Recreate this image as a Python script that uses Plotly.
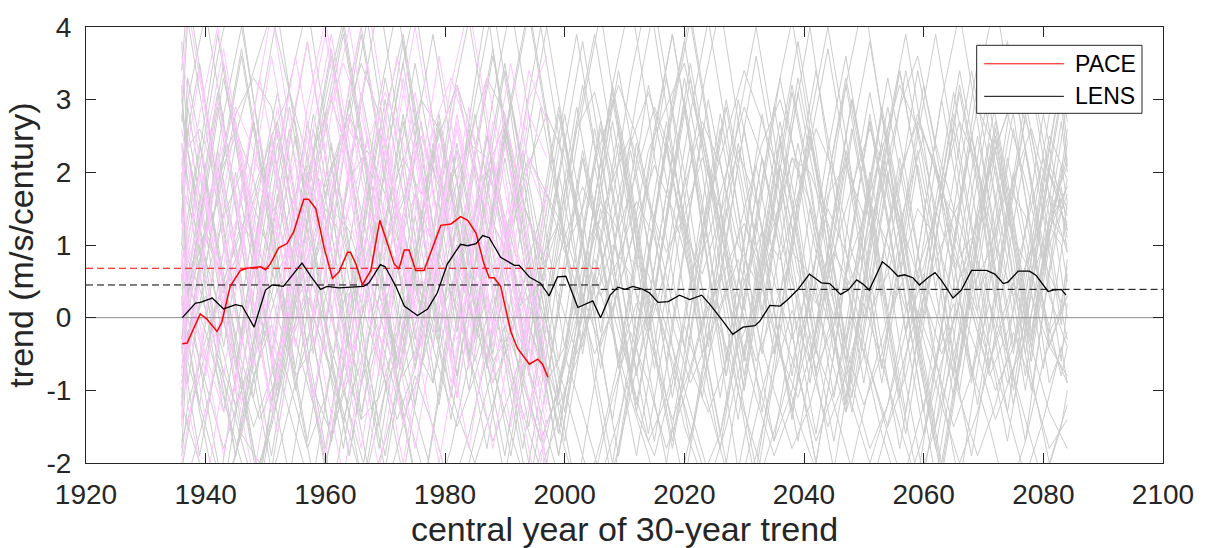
import plotly.graph_objects as go

# ---------------- data ----------------
# LENS members are sampled every 3 years on two staggered year grids; PACE likewise
GRAY_YEARS_A = list(range(1936, 2084, 3)) + [2084]
GRAY_YEARS_B = [1936] + list(range(1937, 2084, 3)) + [2084]
PINK_YEARS_A = list(range(1936, 1997, 3)) + [1997]
PINK_YEARS_B = [1936] + list(range(1937, 1997, 3)) + [1997]

lens_members = [
    [2.1, 3.5, 1.8, 0.2, -1.1, 0.6, 2.4, 3.8, 2.2, 0.4, -1.3, -0.2, 1.6, 0.5, -0.9, 0.8, 2.7, 4.3, 2.5, 0.9,
     -0.6, -1.9, -0.4, 1.3, 3.0, 1.6, -0.1, 1.4, 2.9, 1.2, -0.5, -2.1, -0.8, 1.0, 2.6, 4.0, 2.3, 0.6, -0.9, 0.7,
     2.2, 0.9, -0.7, 0.9, 2.5, 1.1, -0.4, -1.7, 0.1, 1.8, 1.2],
    [-1.4, 0.3, 1.9, 0.6, -0.8, -2.3, -0.6, 1.2, 2.8, 1.5, 0.0, 1.7, 3.3, 2.0, 0.3, -1.2, 0.4, 2.1, 0.9, -0.7,
     -2.0, -0.5, 1.3, 2.9, 4.2, 2.6, 0.8, -0.7, 0.9, 2.4, 1.0, -0.6, 1.1, 2.8, 1.4, -0.3, -1.6, -0.1, 1.7, 3.1,
     1.8, 0.2, -1.3, 0.4, 2.0, 3.5, 2.1, 0.5, -1.0, 0.6, 1.9],
    [0.7, 2.3, 3.9, 2.4, 0.9, 2.2, 1.0, -0.7, -2.1, -0.6, 1.1, 2.6, 1.2, -0.3, 1.2, 2.9, 4.1, 2.6, 0.8, -0.8,
     0.6, 2.0, 0.7, -0.9, -2.3, -0.8, 0.9, 2.4, 1.0, -0.5, 1.1, 2.7, 4.0, 2.5, 0.8, -0.6, 0.9, 2.3, 1.1, -0.4,
     -1.8, -0.3, 1.4, 2.8, 1.3, -0.2, 1.4, 3.0, 1.6, 0.1, 0.8],
    [3.2, 1.7, 0.1, -1.3, 0.2, 1.8, 3.1, 1.6, 0.0, 1.5, 3.0, 1.7, 0.1, -1.4, -2.6, -1.0, 0.8, 2.3, 3.7, 2.2,
     0.6, -0.9, 0.6, 2.2, 0.9, -0.6, -1.9, -0.4, 1.3, 2.8, 4.1, 2.6, 0.9, -0.5, 1.0, 2.4, 1.1, -0.5, 1.1, 2.8,
     1.4, -0.2, -1.6, -0.1, 1.6, 3.2, 4.4, 2.8, 1.1, -0.4, 0.3],
    [-0.5, 1.0, -0.3, -1.9, -0.6, 1.1, 2.6, 1.2, -0.4, -1.8, -0.3, 1.5, 3.1, 4.3, 2.7, 1.0, -0.5, 1.0, 2.5, 1.1,
     -0.5, -1.9, -0.4, 1.2, 2.7, 1.3, -0.2, 1.3, 3.0, 1.6, 0.0, -1.4, 0.2, 1.7, 3.2, 1.9, 0.3, -1.1, 0.5, 2.1,
     0.8, -0.8, -2.2, -0.7, 1.0, 2.5, 3.8, 2.3, 0.7, 2.0, 2.6],
    [1.5, 0.1, 1.7, 3.3, 2.0, 0.4, -1.1, 0.5, 2.2, 3.6, 2.1, 0.5, -0.9, -2.2, -0.7, 0.9, 2.4, 1.1, -0.5, 1.0,
     2.6, 4.0, 2.5, 0.8, -0.7, 0.8, 2.4, 1.2, -0.4, -1.7, -0.2, 1.5, 0.2, -1.3, 0.3, 2.0, 3.4, 2.0, 0.4, 1.9,
     3.3, 2.0, 0.4, -1.0, -2.3, -0.7, 1.0, 2.6, 1.2, -0.3, -0.9],
    [0.2, -1.3, -2.5, -0.8, 0.9, 2.5, 1.1, -0.4, 1.2, 2.7, 4.0, 2.5, 0.8, -0.6, 0.9, 2.3, 1.0, -0.6, -1.9, -0.3,
     1.4, 2.9, 1.5, 0.0, 1.6, 3.3, 4.5, 2.9, 1.2, -0.3, -1.6, -0.2, 1.3, 0.1, -1.4, 0.3, 1.9, 3.2, 1.8, 0.3,
     1.8, 3.4, 2.1, 0.5, -0.9, 0.6, 2.2, 0.9, -0.7, 0.9, 1.6],
    [2.7, 4.1, 2.6, 1.0, -0.4, 1.1, 2.6, 1.3, -0.3, -1.7, -0.2, 1.5, 3.0, 1.7, 0.1, 1.6, 3.2, 2.0, 0.4, -1.1,
     -2.4, -0.9, 0.8, 2.3, 1.0, -0.6, 1.0, 2.6, 3.9, 2.4, 0.7, -0.8, 0.7, 2.2, 0.9, -0.7, -2.0, -0.5, 1.2, 2.7,
     1.3, -0.2, 1.4, 3.0, 4.2, 2.7, 1.0, -0.5, 1.0, 2.5, 1.9],
    [-2.1, -0.6, 1.0, 2.4, 1.0, -0.5, 1.1, 2.7, 1.4, 0.0, -1.4, 0.3, 2.0, 3.5, 2.1, 0.5, -1.0, 0.6, 2.2, 0.9,
     -0.6, 1.0, 2.6, 3.9, 2.4, 0.8, -0.7, -2.0, -0.5, 1.2, 2.8, 1.5, -0.1, 1.5, 3.1, 1.8, 0.2, -1.2, 0.4, 2.0,
     3.4, 2.0, 0.4, -1.1, 0.5, 2.1, 0.8, -0.8, 0.8, 2.4, 3.0],
    [1.0, 2.6, 1.2, -0.4, 1.1, 2.8, 4.2, 2.6, 0.9, -0.6, -1.9, -0.4, 1.2, 2.7, 1.3, -0.3, 1.3, 2.8, 1.4, -0.1,
     -1.5, 0.1, 1.7, 3.2, 1.9, 0.3, -1.2, 0.3, 1.8, 3.3, 2.0, 0.4, -1.0, 0.6, 2.1, 0.8, -0.8, 0.8, 2.5, 3.8,
     2.3, 0.7, -0.8, -2.1, -0.6, 1.1, 2.6, 1.2, -0.3, 1.3, 2.2],
    [0.0, 1.6, 3.1, 1.7, 0.2, -1.2, 0.4, 2.0, 0.7, -0.9, -2.2, -0.7, 0.9, 2.5, 3.9, 2.4, 0.8, -0.7, 0.8, 2.3,
     1.0, -0.6, 1.0, 2.6, 1.3, -0.3, -1.6, -0.1, 1.6, 3.1, 4.3, 2.7, 1.0, -0.5, 1.0, 2.5, 1.2, -0.4, 1.2, 2.8,
     1.5, -0.1, -1.5, 0.0, 1.7, 3.2, 1.9, 0.3, 1.8, 3.3, 2.7],
    [3.8, 2.3, 0.7, 2.2, 3.6, 2.1, 0.5, -1.0, 0.6, 2.1, 0.8, -0.8, -2.1, -0.6, 1.1, 2.6, 1.2, -0.3, 1.3, 2.9,
     4.2, 2.7, 1.0, -0.5, 1.0, 2.4, 1.1, -0.5, -1.8, -0.3, 1.4, 2.9, 1.5, 0.0, 1.6, 3.1, 1.8, 0.2, -1.3, 0.3,
     1.9, 3.4, 2.1, 0.5, -1.0, 0.6, 2.1, 0.8, -0.8, -2.0, -1.2],
    [-0.9, 0.7, 2.3, 1.0, -0.5, -1.9, -0.4, 1.3, 2.8, 4.0, 2.5, 0.8, -0.7, 0.8, 2.3, 1.0, -0.6, 1.0, 2.7, 1.4,
     -0.2, -1.6, -0.1, 1.6, 3.1, 1.8, 0.2, 1.7, 3.3, 2.0, 0.4, -1.0, -2.3, -0.8, 0.9, 2.4, 3.7, 2.2, 0.6, -0.9,
     0.6, 2.1, 0.8, -0.8, 0.8, 2.4, 1.1, -0.5, 1.1, 2.7, 2.0],
    [1.9, 0.3, -1.1, -2.4, -0.8, 0.9, 2.4, 1.0, -0.5, 1.1, 2.7, 4.1, 2.5, 0.8, -0.7, 0.8, 2.3, 1.0, -0.6, -1.9,
     -0.4, 1.3, 2.8, 1.4, -0.2, 1.4, 3.0, 4.3, 2.8, 1.1, -0.4, 1.1, 2.6, 1.2, -0.4, -1.7, -0.2, 1.5, 3.0, 1.7,
     0.1, 1.6, 3.2, 1.9, 0.3, -1.2, 0.4, 2.0, 0.7, -0.9, -0.2],
    [0.5, 2.1, 3.6, 4.7, 3.0, 1.3, -0.2, 1.3, 2.8, 1.4, -0.1, -1.5, 0.0, 1.7, 0.4, -1.1, 0.5, 2.1, 3.5, 2.0,
     0.4, -1.1, -2.4, -0.9, 0.8, 2.3, 1.0, -0.6, 1.0, 2.6, 1.3, -0.3, 1.3, 2.9, 4.1, 2.6, 0.9, -0.6, 0.9, 2.4,
     1.1, -0.5, -1.8, -0.3, 1.4, 2.9, 1.5, 0.0, 1.6, 3.1, 2.4],
    [-1.2, 0.3, 1.8, 0.5, -1.0, -2.4, -0.9, 0.8, 2.3, 3.7, 2.2, 0.6, 2.1, 3.5, 2.0, 0.4, -1.1, 0.5, 2.1, 0.8,
     -0.8, 0.8, 2.4, 3.8, 2.3, 0.7, -0.8, 0.7, 2.2, 0.9, -0.7, -2.0, -0.5, 1.2, 2.7, 1.4, -0.2, 1.4, 3.0, 1.6,
     0.1, -1.3, 0.3, 1.9, 3.4, 2.1, 0.5, -1.0, 0.6, 2.1, 1.5],
    [2.8, 1.3, -0.3, 1.2, 2.7, 1.3, -0.3, -1.7, -0.2, 1.5, 3.0, 4.4, 2.8, 1.1, -0.4, 1.1, 2.6, 1.2, -0.4, -1.8,
     -0.3, 1.4, 2.9, 1.5, 0.0, 1.6, 3.2, 1.9, 0.3, -1.1, 0.5, 2.1, 3.6, 2.2, 0.6, -0.9, 0.7, 2.2, 0.9, -0.7,
     0.9, 2.5, 3.9, 2.4, 0.8, -0.7, 0.8, 2.3, 1.0, -0.6, 0.2],
    [0.6, -0.9, 0.7, 2.3, 3.7, 2.2, 0.6, -0.9, -2.2, -0.7, 1.0, 2.5, 1.1, -0.5, 1.1, 2.7, 1.3, -0.2, 1.4, 3.0,
     4.3, 2.8, 1.1, -0.4, 1.1, 2.6, 1.2, -0.4, -1.7, -0.2, 1.5, 3.0, 1.7, 0.1, 1.7, 3.3, 2.0, 0.4, -1.1, 0.4,
     2.0, 0.7, -0.9, -2.2, -0.7, 1.0, 2.5, 1.1, -0.4, 1.2, 1.8],
    [-0.3, 1.3, 2.9, 1.5, 0.0, 1.6, 3.2, 4.3, 2.7, 1.0, -0.5, -1.8, -0.3, 1.4, 0.1, -1.4, 0.2, 1.9, 3.4, 2.0,
     0.4, -1.1, 0.5, 2.1, 0.8, -0.8, 0.8, 2.4, 3.8, 2.3, 0.7, -0.8, -2.1, -0.6, 1.1, 2.6, 1.2, -0.3, 1.3, 2.9,
     1.6, 0.0, 1.6, 3.1, 1.8, 0.2, -1.3, 0.3, 1.9, 3.3, 2.8],
    [1.3, 2.9, 1.5, 0.0, -1.5, 0.1, 1.7, 0.4, -1.1, -2.5, -1.0, 0.7, 2.3, 3.8, 2.3, 0.7, -0.8, 0.7, 2.2, 0.9,
     -0.7, 0.9, 2.5, 1.1, -0.5, -1.9, -0.4, 1.3, 2.8, 4.1, 2.6, 0.9, -0.6, 0.9, 2.4, 1.1, -0.5, 1.1, 2.6, 1.3,
     -0.3, -1.6, -0.1, 1.6, 3.1, 1.8, 0.2, 1.7, 3.3, 2.0, 1.4],
    [2.4, 0.9, -0.6, -1.9, -0.3, 1.4, 2.9, 1.5, -0.1, 1.5, 3.1, 1.8, 0.2, -1.2, 0.4, 2.0, 0.7, -0.9, -2.2, -0.7,
     1.0, 2.5, 3.9, 2.4, 0.8, -0.7, 0.8, 2.4, 1.1, -0.5, -1.8, -0.3, 1.4, 2.9, 1.5, 0.0, 1.6, 3.2, 4.4, 2.8,
     1.1, -0.4, 1.1, 2.6, 1.2, -0.4, -1.7, -0.2, 1.5, 3.0, 2.1],
    [-1.8, -0.3, 1.3, 2.8, 4.0, 2.5, 0.8, -0.7, 0.9, 2.4, 1.0, -0.6, -1.9, -0.4, 1.3, 2.8, 1.4, -0.2, 1.4, 3.0,
     1.7, 0.1, -1.3, 0.2, 1.9, 3.4, 2.0, 0.4, -1.1, 0.4, 2.1, 0.8, -0.8, 0.8, 2.4, 3.8, 2.3, 0.6, -0.9, 0.6,
     2.2, 0.9, -0.7, -2.0, -0.5, 1.2, 2.7, 1.3, -0.2, 1.4, 2.1],
    [0.9, 2.4, 0.9, -0.7, 0.9, 2.5, 1.1, -0.4, -1.8, -0.3, 1.4, 3.0, 4.3, 2.7, 1.0, -0.5, 1.0, 2.5, 1.2, -0.4,
     1.2, 2.8, 1.5, 0.0, -1.4, 0.2, 1.8, 3.3, 2.0, 0.4, -1.1, 0.5, 2.1, 0.8, -0.8, 0.8, 2.3, 3.6, 2.1, 0.5,
     -1.0, -2.2, -0.7, 1.0, 2.5, 1.2, -0.4, 1.2, 2.8, 1.5, 0.9],
    [3.4, 4.5, 2.9, 1.2, -0.3, 1.2, 2.7, 1.3, -0.3, -1.7, -0.2, 1.5, 0.2, -1.3, -2.6, -1.1, 0.6, 2.2, 3.6, 2.2,
     0.6, -0.9, 0.6, 2.2, 0.9, -0.7, 0.9, 2.5, 3.9, 2.4, 0.7, -0.8, 0.7, 2.2, 0.9, -0.7, -2.0, -0.5, 1.2, 2.7,
     1.3, -0.2, 1.4, 3.0, 1.6, 0.1, 1.6, 3.2, 1.9, 0.3, -0.4],
    [-0.4, -1.9, -0.5, 1.2, 2.7, 1.3, -0.2, 1.4, 3.0, 4.1, 2.6, 0.9, -0.6, 0.9, 2.4, 1.1, -0.5, -1.8, -0.3, 1.4,
     2.9, 1.5, 0.0, 1.6, 3.2, 1.9, 0.3, -1.1, -2.3, -0.8, 0.9, 2.4, 1.0, -0.5, 1.1, 2.7, 4.0, 2.5, 0.8, -0.7,
     0.8, 2.3, 1.0, -0.6, -1.9, -0.4, 1.3, 2.8, 1.4, -0.1, 0.6],
    [1.4, 3.0, 4.2, 2.7, 1.0, -0.5, 1.0, 2.5, 1.1, -0.5, -1.9, -0.4, 1.3, 2.8, 1.4, -0.2, 1.4, 3.0, 4.3, 2.8,
     1.1, -0.4, -1.7, -0.2, 1.5, 0.2, -1.3, 0.3, 2.0, 3.5, 2.1, 0.5, -1.0, 0.6, 2.1, 0.8, -0.8, -2.1, -0.6, 1.1,
     2.6, 3.9, 2.4, 0.8, -0.7, 0.8, 2.3, 1.0, -0.6, 1.0, 1.7],
    [0.2, -1.2, 0.4, 2.0, 0.7, -0.9, -2.2, -0.7, 1.0, 2.5, 3.9, 2.4, 0.8, -0.7, 0.8, 2.3, 1.0, -0.6, 1.0, 2.6,
     4.0, 2.5, 0.8, -0.7, -2.0, -0.5, 1.2, 2.7, 1.3, -0.2, 1.4, 3.0, 1.7, 0.1, -1.3, 0.3, 1.9, 3.3, 2.0, 0.4,
     -1.1, 0.5, 2.1, 0.8, -0.8, 0.8, 2.4, 3.7, 2.2, 0.6, 0.0],
    [2.0, 0.5, 2.0, 3.5, 2.1, 0.5, -1.0, 0.6, 2.2, 0.9, -0.7, -2.0, -0.5, 1.2, 2.7, 1.3, -0.2, 1.4, 3.0, 4.3,
     2.8, 1.1, -0.4, 1.1, 2.6, 1.2, -0.4, -1.7, -0.2, 1.5, 3.0, 1.7, 0.1, 1.7, 3.3, 2.0, 0.4, -1.1, 0.4, 2.0,
     0.7, -0.9, -2.2, -0.7, 1.0, 2.5, 1.2, -0.4, 1.2, 2.8, 3.3],
    [-1.0, 0.6, 2.1, 0.8, -0.8, -2.1, -0.6, 1.1, 2.6, 3.9, 2.4, 0.8, -0.7, 0.8, 2.3, 1.0, -0.6, 1.0, 2.6, 1.3,
     -0.3, -1.6, -0.1, 1.6, 3.2, 4.4, 2.8, 1.1, -0.4, 1.1, 2.6, 1.2, -0.4, -1.7, -0.2, 1.5, 0.2, -1.3, 0.3, 1.9,
     3.4, 2.0, 0.4, 1.9, 3.4, 2.1, 0.5, -1.0, 0.6, 2.1, 1.6],
    [1.7, 3.3, 2.0, 0.4, -1.0, -2.2, -0.6, 1.1, 2.6, 1.2, -0.4, 1.2, 2.8, 3.9, 2.4, 0.7, -0.8, 0.7, 2.2, 0.9,
     -0.7, -2.0, -0.5, 1.2, 2.7, 1.3, -0.2, 1.4, 3.0, 4.2, 2.7, 1.0, -0.5, 1.0, 2.5, 1.2, -0.4, -1.7, -0.2, 1.5,
     2.9, 1.6, 0.0, 1.6, 3.2, 1.9, 0.3, -1.2, 0.4, 2.0, 1.2],
    [0.4, 0.9, 1.6, 2.8, 3.3, 2.9, 1.7, 1.2, 0.3, -0.6, -1.4, -1.1, -0.2, 0.6, 0.8, 1.9, 2.4, 2.2, 1.1, 0.2,
     0.5, 1.3, 2.6, 3.1, 2.0, 0.8, 0.6, -0.3, -1.5, -2.2, -1.6, -0.4, 0.2, 1.1, 2.2, 2.0, 1.3, 0.4, 0.9, 1.8,
     2.9, 3.6, 2.4, 1.5, 0.1, -0.8, -0.2, 0.7, 1.4, 1.0, 0.5],
    [-0.7, -0.2, 0.3, -0.5, -1.6, -2.0, -1.1, 0.2, 0.7, 1.5, 1.2, 0.4, 0.9, 2.1, 3.0, 2.6, 1.3, 0.1, -0.6, -0.2,
     0.5, 0.3, 1.1, 1.8, 1.2, 0.0, -1.3, -1.9, -0.9, 0.5, 1.6, 2.5, 3.4, 2.7, 1.9, 0.6, 0.2, 0.9, 0.4, -0.7,
     -1.5, -0.8, 0.3, 1.0, 1.6, 2.9, 2.3, 1.1, 0.6, -0.2, 0.3],
    [2.2, 2.6, 1.9, 2.5, 3.4, 4.2, 3.1, 1.8, 1.0, 0.2, 0.6, 1.4, 0.7, -0.4, -0.9, 0.3, 1.2, 2.0, 2.7, 1.6,
     0.8, 1.3, 0.4, -0.5, 0.1, 1.0, 2.3, 2.9, 3.5, 2.4, 1.2, 0.3, -0.8, -1.7, -1.0, 0.4, 1.7, 2.1, 1.4, 2.3,
     3.2, 2.6, 1.5, 0.7, 1.1, 0.2, -0.9, -0.3, 0.8, 1.9, 2.4],
    [-1.9, -1.2, -0.3, 0.5, 1.3, 0.9, 0.0, -0.8, -0.4, 0.6, 1.9, 2.3, 1.7, 0.8, 0.2, -0.7, -1.5, -0.8, 0.1, 1.2,
     2.1, 2.8, 2.2, 1.0, 0.3, 0.8, 1.6, 1.1, -0.1, -0.9, -0.3, 0.4, 1.5, 2.4, 3.0, 2.1, 0.9, 0.0, -0.9, -1.8,
     -1.2, 0.1, 0.9, 1.7, 1.3, 0.4, 0.8, 1.9, 2.6, 1.7, 0.9],
    [1.0, 0.4, -0.5, -1.2, -0.6, 0.3, 1.5, 2.1, 1.8, 2.6, 3.5, 2.8, 1.4, 0.6, -0.2, 0.4, 1.3, 0.9, 0.1, -0.9,
     -1.7, -1.0, 0.2, 1.1, 1.9, 2.5, 1.6, 0.9, 1.4, 2.2, 1.5, 0.3, -0.6, 0.1, 0.9, 0.6, -0.4, -1.3, -0.5, 0.8,
     2.0, 2.7, 2.1, 1.2, 0.4, 0.9, 1.8, 1.4, 0.2, -0.8, -0.4],
    [3.0, 2.3, 1.1, 0.5, 1.2, 2.0, 1.4, 0.2, -1.0, -1.6, -0.8, 0.4, 1.4, 2.2, 1.7, 2.5, 3.2, 2.4, 1.3, 0.8,
     -0.1, -0.9, -0.4, 0.7, 1.6, 1.2, 2.0, 2.9, 2.2, 1.0, 0.1, 0.7, 1.3, 0.6, -0.5, -1.1, -0.2, 0.9, 1.8, 2.6,
     1.9, 1.1, 0.3, -0.5, 0.2, 1.4, 2.3, 3.1, 2.5, 1.4, 1.0],
    [0.1, 0.8, 2.0, 2.6, 1.9, 0.7, -0.3, 0.4, 1.5, 1.1, 0.2, -0.6, -1.4, -0.7, 0.5, 1.6, 2.4, 3.3, 2.8, 1.6,
     0.9, 0.3, -0.5, 0.2, 1.0, 0.6, -0.2, 0.7, 1.8, 2.7, 2.1, 1.0, 0.5, 1.3, 2.2, 1.6, 0.5, -0.4, -1.2, -0.5,
     0.6, 1.5, 1.1, 0.3, 1.0, 2.1, 2.8, 1.9, 0.8, 0.2, 0.7],
    [-1.1, -0.4, 0.5, 1.4, 2.0, 1.3, 0.6, 1.2, 2.3, 3.0, 2.2, 1.1, 0.0, -0.8, -0.3, 0.6, 0.2, -0.6, 0.3, 1.4,
     2.2, 1.7, 0.9, 1.5, 2.4, 3.2, 2.5, 1.3, 0.2, -0.7, -1.3, -0.6, 0.5, 1.2, 0.8, 1.7, 2.6, 2.0, 0.9, 0.1,
     0.6, 1.6, 2.5, 1.8, 0.7, -0.2, -1.0, -0.4, 0.5, 1.3, 1.8],
    [1.8, 1.1, 0.2, 0.8, 1.6, 2.5, 3.1, 2.2, 1.0, -0.1, -0.9, -0.2, 0.9, 1.7, 1.0, 0.3, 1.1, 2.0, 1.4, 0.5,
     -0.4, -1.2, -0.6, 0.4, 1.3, 2.4, 3.1, 2.3, 1.2, 0.6, 1.4, 2.3, 1.6, 0.5, -0.3, 0.5, 1.5, 0.9, 0.0, 0.8,
     1.9, 2.8, 2.0, 0.9, 0.2, -0.6, 0.1, 1.2, 2.2, 1.5, 1.1],
    [-0.3, 0.6, 1.2, 0.5, -0.6, -1.4, -0.8, 0.3, 1.1, 2.0, 2.8, 2.1, 1.0, 1.6, 2.5, 1.8, 0.7, -0.1, -0.9, -0.3,
     0.8, 1.7, 1.2, 0.3, -0.4, 0.4, 1.3, 2.1, 1.5, 0.6, 1.1, 2.0, 2.9, 2.2, 1.1, 0.2, -0.7, -0.1, 0.9, 1.6,
     1.0, 0.1, 0.7, 1.8, 2.7, 2.1, 1.0, 0.3, 0.9, 1.7, 1.3],
    [-1.2, -2.0, -2.8, -1.9, -0.8, -0.1, -0.9, -1.8, -1.1, 0.2, 0.9, 0.1, -0.9, -1.7, -2.6, -1.8, -0.6, 0.3, -0.4, -1.3,
     -2.1, -1.4, -0.3, 0.6, -0.2, -1.1, -1.9, -2.9, -2.0, -0.9, 0.1, 0.8, -0.1, -1.0, -1.8, -1.2, -0.2, 0.5, -0.5, -1.6,
     -2.4, -1.5, -0.6, 0.2, -0.7, -1.5, -2.5, -1.7, -0.6, 0.1, -0.3],
    [0.3, -0.6, -1.5, -2.4, -1.6, -0.5, 0.4, -0.3, -1.2, -2.2, -3.0, -2.1, -1.0, -0.2, 0.5, -0.4, -1.3, -2.0, -1.2, -0.1,
     0.7, -0.1, -1.0, -1.9, -2.7, -1.8, -0.7, 0.2, -0.6, -1.5, -2.3, -1.5, -0.4, 0.4, -0.5, -1.4, -2.1, -2.9, -2.0, -0.9,
     0.0, 0.6, -0.3, -1.2, -2.0, -1.3, -0.3, 0.5, -0.4, -1.3, -1.8],
    [-2.5, -1.6, -0.6, -1.4, -2.3, -1.5, -0.4, 0.3, -0.5, -1.4, -0.6, 0.3, -0.4, -1.3, -2.2, -2.9, -2.0, -1.0, -0.1, -0.8,
     -1.7, -1.0, 0.0, 0.8, 0.1, -0.8, -1.7, -1.1, -0.1, -0.9, -1.8, -2.7, -1.9, -0.8, 0.1, -0.6, -1.5, -0.8, 0.2, -0.6,
     -1.5, -2.3, -1.5, -0.5, 0.3, -0.4, -1.3, -2.2, -1.4, -0.4, -0.9],
    [-0.4, 0.5, -0.2, -1.1, -2.0, -2.8, -1.9, -0.9, 0.0, -0.7, -1.6, -2.5, -1.7, -0.7, 0.2, 0.9, 0.1, -0.8, -1.7, -1.0,
     -0.1, -0.8, -1.8, -2.6, -1.7, -0.6, 0.2, -0.5, -1.4, -0.7, 0.3, -0.4, -1.3, -2.1, -1.3, -0.3, 0.5, -0.3, -1.2, -2.0,
     -1.2, -0.2, 0.6, -0.2, -1.1, -1.9, -1.2, -0.2, -0.9, -1.8, -1.4],
    [-1.7, -0.8, 0.2, -0.6, -1.5, -0.8, 0.1, 0.7, -0.1, -1.0, -1.9, -2.7, -1.8, -0.8, -1.5, -2.4, -1.6, -0.5, 0.3, -0.4,
     -1.3, -2.2, -3.1, -2.2, -1.1, -0.2, -0.9, -1.8, -1.1, -0.1, 0.6, -0.2, -1.1, -1.9, -1.2, -0.2, -0.9, -1.8, -2.7, -1.8,
     -0.8, 0.1, -0.6, -1.5, -0.8, 0.2, -0.5, -1.4, -2.3, -1.5, -1.0],
    [0.8, 0.0, -0.9, -1.8, -1.0, 0.0, -0.7, -1.6, -2.5, -1.7, -0.6, 0.3, -0.5, -1.4, -0.7, 0.3, 1.0, 0.2, -0.7, -1.6,
     -2.4, -1.6, -0.5, -1.3, -2.2, -1.4, -0.4, 0.4, -0.4, -1.3, -2.2, -3.0, -2.1, -1.0, -0.1, -0.8, -1.7, -1.0, 0.0, -0.7,
     -1.6, -2.4, -1.6, -0.6, 0.2, -0.5, -1.4, -0.7, 0.3, -0.4, -0.8],
]

pace_members = [
    [1.2, 2.8, 4.0, 2.5, 0.8, -0.6, 1.0, 2.5, 1.1, -0.5, -1.8, -0.2, 1.5, 3.1, 1.7, 0.1, 1.7, 3.3, 2.0, 0.4, -1.1, -1.5],
    [-1.5, 0.1, 1.7, 0.4, -1.2, 0.4, 2.1, 3.6, 2.2, 0.6, -0.9, 0.7, 2.3, 0.9, -0.7, -2.0, -0.5, 1.2, 2.7, 1.3, -0.2, -0.9],
    [2.6, 1.1, -0.4, 1.2, 2.8, 4.2, 2.7, 1.0, -0.5, 1.1, 2.6, 1.2, -0.4, -1.8, -0.3, 1.4, 2.9, 1.5, 0.0, -1.4, -2.6, -3.0],
    [0.3, -1.2, -2.4, -0.8, 0.9, 2.5, 1.2, -0.4, 1.2, 2.8, 4.0, 2.5, 0.9, -0.6, 0.9, 2.4, 1.1, -0.5, -1.8, -0.3, 1.3, 0.8],
    [3.6, 2.2, 0.6, -0.9, 0.7, 2.3, 1.0, -0.6, -1.9, -0.4, 1.3, 2.8, 1.5, 0.0, 1.6, 3.2, 4.3, 2.8, 1.1, -0.4, 1.1, 1.8],
    [-0.8, 0.8, 2.4, 3.7, 2.2, 0.6, -0.9, 0.6, 2.2, 0.9, -0.7, 0.9, 2.5, 1.2, -0.4, 1.2, 2.8, 1.5, -0.1, -1.5, 0.0, 0.6],
    [1.8, 3.4, 2.0, 0.4, 2.0, 3.6, 2.2, 0.6, -0.9, -2.2, -0.7, 1.0, 2.6, 4.0, 2.5, 0.8, -0.7, 0.8, 2.4, 1.1, -0.5, -1.2],
    [0.9, -0.6, 1.0, 2.6, 1.3, -0.3, -1.6, -0.1, 1.6, 3.1, 1.8, 0.2, 1.7, 3.3, 2.0, 0.4, -1.1, 0.5, 2.1, 3.5, 2.1, 1.4],
    [-2.0, -0.5, 1.2, 2.7, 1.3, -0.3, 1.3, 2.9, 4.1, 2.6, 0.9, -0.6, 0.9, 2.4, 1.1, -0.5, -1.8, -0.3, 1.4, 0.1, -1.4, -2.1],
    [2.2, 0.7, -0.8, 0.7, 2.3, 1.0, -0.6, 1.0, 2.6, 3.9, 2.4, 0.8, -0.7, -2.0, -0.5, 1.2, 2.7, 1.3, -0.2, 1.4, 3.0, 3.6],
    [0.5, 2.0, 0.7, -0.9, -2.2, -0.7, 1.0, 2.6, 3.9, 2.4, 0.7, -0.8, 0.8, 2.3, 1.0, -0.6, 1.0, 2.6, 1.3, -0.3, -1.6, -2.3],
    [3.0, 4.3, 2.8, 1.1, -0.4, 1.1, 2.6, 1.2, -0.4, 1.2, 2.8, 1.5, -0.1, -1.5, 0.0, 1.7, 3.2, 1.9, 0.3, 1.8, 3.4, 2.7],
    [-1.0, 0.6, 2.2, 0.9, -0.7, 0.9, 2.5, 3.8, 2.3, 0.7, -0.8, -2.1, -0.6, 1.1, 2.6, 1.2, -0.4, 1.2, 2.8, 1.5, -0.1, -0.8],
    [1.5, 0.0, -1.4, 0.2, 1.8, 3.3, 2.0, 0.4, -1.1, 0.5, 2.1, 3.5, 2.0, 0.4, 2.0, 3.6, 2.2, 0.6, -0.9, 0.7, 2.2, 1.6],
    [0.0, 1.5, 3.0, 1.7, 0.1, -1.3, 0.3, 1.9, 0.6, -1.0, 0.6, 2.2, 3.6, 2.2, 0.6, -0.9, 0.6, 2.2, 0.9, -0.7, -2.0, -1.4],
    [2.4, 1.0, -0.6, -1.9, -0.4, 1.3, 2.9, 1.5, 0.0, 1.6, 3.2, 4.4, 2.8, 1.1, -0.4, 1.1, 2.6, 1.2, -0.4, 1.2, 2.8, 2.2],
    [0.6, 1.2, 2.1, 2.9, 2.3, 1.4, 0.5, 1.1, 2.0, 1.6, 0.8, 0.1, 0.9, 1.7, 2.6, 3.3, 2.5, 1.4, 0.6, -0.2, -0.9, -1.3],
    [-0.4, 0.3, -0.5, -1.3, -0.7, 0.4, 1.3, 2.2, 1.7, 0.9, 1.5, 2.4, 3.1, 2.4, 1.2, 0.4, -0.3, 0.5, 1.3, 0.7, -0.4, -0.9],
    [2.0, 1.4, 0.7, 1.3, 2.2, 1.6, 0.8, 1.5, 2.7, 3.5, 2.8, 1.7, 0.9, 0.2, 0.8, 1.6, 1.0, 0.2, -0.6, -1.4, -0.8, -0.3],
    [0.9, 0.2, -0.6, 0.1, 1.0, 1.8, 1.3, 0.4, 1.0, 1.9, 2.6, 2.0, 1.1, 1.7, 2.5, 1.9, 0.8, 0.0, 0.7, 1.2, 0.4, -0.2],
]

pace_mean_years = [1936.1, 1936.9, 1939.1, 1940.2, 1941.9, 1942.7, 1944.1, 1945.8, 1946.9, 1949.2, 1950.0,
                   1950.8, 1952.2, 1953.6, 1954.7, 1956.4, 1957.2, 1958.4, 1959.8, 1961.2, 1962.3, 1963.7,
                   1964.2, 1965.1, 1966.2, 1967.6, 1969.1, 1970.4, 1971.5, 1972.3, 1973.2, 1974.0, 1975.1,
                   1976.5, 1978.2, 1979.3, 1981.0, 1982.6, 1983.8, 1985.2, 1986.5, 1987.4, 1988.2, 1989.3,
                   1991.0, 1992.1, 1994.1, 1995.5, 1996.3, 1997.2]
pace_mean_vals = [-0.36, -0.35, 0.05, -0.02, -0.19, -0.06, 0.43, 0.65, 0.68, 0.70, 0.66,
                  0.74, 0.96, 1.02, 1.18, 1.63, 1.63, 1.50, 0.96, 0.54, 0.63, 0.90,
                  0.90, 0.74, 0.45, 0.65, 1.34, 1.01, 0.74, 0.67, 0.93, 0.93, 0.65,
                  0.65, 1.01, 1.27, 1.29, 1.39, 1.34, 1.16, 0.74, 0.55, 0.55, 0.43,
                  -0.19, -0.42, -0.64, -0.57, -0.64, -0.82]

lens_mean_years = [1936.1, 1938.3, 1939.1, 1941.1, 1943.0, 1945.0, 1946.1, 1948.1, 1950.0, 1951.1, 1953.0,
                   1954.7, 1956.1, 1957.5, 1959.2, 1960.3, 1962.3, 1966.4, 1967.3, 1969.2, 1970.0, 1971.8,
                   1973.2, 1975.4, 1977.1, 1978.7, 1980.4, 1982.6, 1983.8, 1985.2, 1986.3, 1987.4, 1989.3,
                   1991.6, 1992.4, 1994.1, 1996.0, 1997.4, 1998.8, 2000.2, 2001.1, 2002.2, 2004.7, 2006.0,
                   2007.6, 2008.9, 2010.1, 2011.4, 2013.1, 2014.2, 2015.6, 2017.3, 2019.2, 2020.9, 2022.9,
                   2024.3, 2026.2, 2028.1, 2029.8, 2031.8, 2032.6, 2034.3, 2036.0, 2037.3, 2039.0, 2040.9,
                   2042.9, 2044.3, 2046.1, 2047.4, 2048.8, 2049.9, 2050.9, 2053.1, 2054.3, 2055.7, 2056.8,
                   2058.2, 2059.3, 2060.7, 2061.9, 2063.0, 2064.9, 2066.3, 2068.0, 2070.5, 2071.9, 2073.3,
                   2074.1, 2075.8, 2077.7, 2078.8, 2080.8, 2081.6, 2083.0, 2083.8]
lens_mean_vals = [0.00, 0.20, 0.21, 0.27, 0.12, 0.18, 0.16, -0.13, 0.38, 0.45, 0.43,
                  0.61, 0.75, 0.58, 0.39, 0.43, 0.41, 0.43, 0.48, 0.73, 0.70, 0.43,
                  0.16, 0.03, 0.12, 0.34, 0.74, 1.01, 0.99, 1.02, 1.13, 1.10, 0.83,
                  0.72, 0.72, 0.56, 0.47, 0.30, 0.56, 0.57, 0.38, 0.14, 0.23, 0.00,
                  0.31, 0.42, 0.39, 0.43, 0.39, 0.34, 0.21, 0.22, 0.31, 0.25, 0.31,
                  0.18, -0.02, -0.23, -0.13, -0.11, -0.05, 0.17, 0.16, 0.25, 0.39, 0.60,
                  0.48, 0.47, 0.32, 0.38, 0.52, 0.46, 0.38, 0.77, 0.69, 0.57, 0.59,
                  0.55, 0.45, 0.55, 0.62, 0.51, 0.27, 0.38, 0.65, 0.65, 0.60, 0.47,
                  0.49, 0.64, 0.64, 0.58, 0.36, 0.38, 0.39, 0.31]

# long-term means (dashed reference levels) and the periods they span
pace_period_mean = 0.68
lens_hist_mean = 0.45
lens_future_mean = 0.39
period_split_year = 2006
x_range = [1920, 2100]
y_range = [-2, 4]
x_ticks = [1920, 1940, 1960, 1980, 2000, 2020, 2040, 2060, 2080, 2100]
y_ticks = [-2, -1, 0, 1, 2, 3, 4]
y_tick_labels = ["-2", "-1", "0", "1", "2", "3", "4"]

# ---------------- figure ----------------
FONT = "Liberation Sans, Arial, sans-serif"
AX = "#262626"
fig = go.Figure()

for i, vals in enumerate(lens_members):
    yrs = GRAY_YEARS_A if i % 2 == 0 else GRAY_YEARS_B
    fig.add_trace(go.Scatter(x=yrs[:len(vals)], y=vals, mode="lines",
                             line=dict(color="#cccccc", width=1), showlegend=False, hoverinfo="skip"))
for i, vals in enumerate(pace_members):
    yrs = PINK_YEARS_A if i % 2 == 0 else PINK_YEARS_B
    fig.add_trace(go.Scatter(x=yrs[:len(vals)], y=vals, mode="lines",
                             line=dict(color="#ffc6ff", width=1), showlegend=False, hoverinfo="skip"))

# zero reference
fig.add_trace(go.Scatter(x=x_range, y=[0, 0], mode="lines",
                         line=dict(color="#8c8c8c", width=1), showlegend=False, hoverinfo="skip"))

# dashed means
fig.add_trace(go.Scatter(x=[x_range[0], period_split_year], y=[pace_period_mean] * 2, mode="lines",
                         line=dict(color="#ff0000", width=1, dash="7px,4px"), showlegend=False))
fig.add_trace(go.Scatter(x=[x_range[0], period_split_year], y=[lens_hist_mean] * 2, mode="lines",
                         line=dict(color="#000000", width=1, dash="7px,4px"), showlegend=False))
fig.add_trace(go.Scatter(x=[period_split_year, x_range[1]], y=[lens_future_mean] * 2, mode="lines",
                         line=dict(color="#000000", width=1, dash="7px,4px"), showlegend=False))

fig.add_trace(go.Scatter(x=pace_mean_years, y=pace_mean_vals, mode="lines", name="PACE",
                         line=dict(color="#ff0000", width=1.5), showlegend=False))
fig.add_trace(go.Scatter(x=lens_mean_years, y=lens_mean_vals, mode="lines", name="LENS",
                         line=dict(color="#000000", width=1.3), showlegend=False))

axis_common = dict(showline=True, linecolor=AX, linewidth=1, mirror="ticks", ticks="inside",
                   ticklen=10, tickcolor=AX, tickwidth=1, showgrid=False, zeroline=False,
                   tickfont=dict(family=FONT, size=28, color=AX))

fig.update_layout(
    width=1207, height=548,
    margin=dict(l=86, r=44, t=17, b=81),
    paper_bgcolor="white", plot_bgcolor="white",
    font=dict(family=FONT, color=AX),
    xaxis=dict(range=x_range, tickvals=x_ticks, ticklabelstandoff=6,
               title=dict(text="central year of 30-year trend", font=dict(family=FONT, size=34, color=AX),
                          standoff=3),
               **axis_common),
    yaxis=dict(range=y_range, tickvals=y_ticks, ticktext=y_tick_labels, ticklabelstandoff=8,
               title=dict(text="trend (m/s/century)", font=dict(family=FONT, size=34, color=AX),
                          standoff=2),
               **axis_common),
    showlegend=False,
)

# legend box (MATLAB style)
fig.add_shape(type="rect", xref="paper", yref="paper", x0=0.827, x1=0.9805, y0=0.802, y1=0.958,
              line=dict(color=AX, width=1), fillcolor="white", layer="above")
legend_items = [("PACE", "#ff0000", 0.9156), ("LENS", "#000000", 0.841)]
for label, color, yy in legend_items:
    fig.add_shape(type="line", xref="paper", yref="paper", x0=0.834, x1=0.908, y0=yy, y1=yy,
                  line=dict(color=color, width=1), layer="above")
    fig.add_annotation(x=0.9164, y=yy, xref="paper", yref="paper", text=label, showarrow=False,
                       xanchor="left", yanchor="middle", font=dict(family=FONT, size=23, color="#000000"))

fig.write_html("out.html")
